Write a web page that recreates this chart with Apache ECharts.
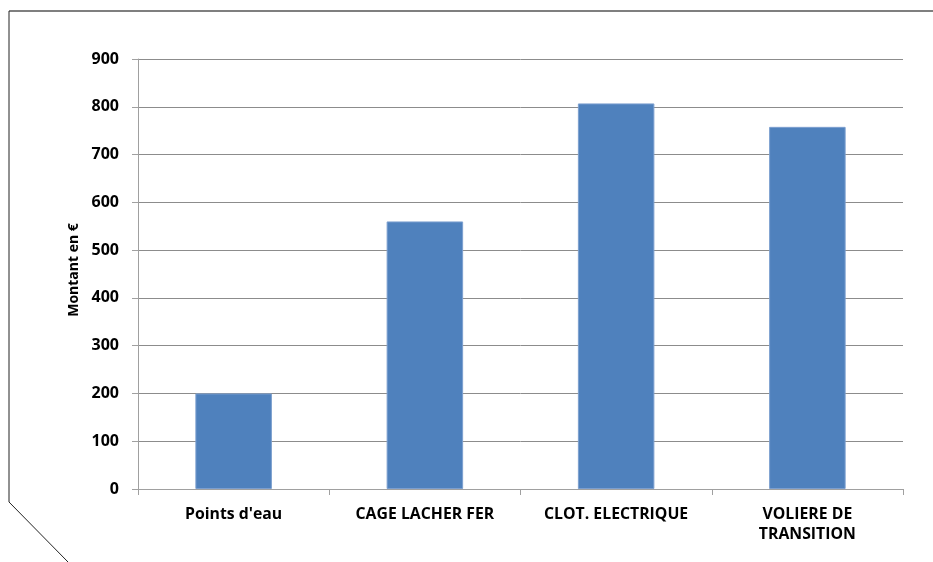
<!DOCTYPE html>
<html><head><meta charset="utf-8">
<script src="https://cdn.jsdelivr.net/npm/echarts@6/dist/echarts.min.js"></script>
<style>html,body{margin:0;padding:0;background:#fff}#c{width:933px;height:562px}</style>
</head><body><div id="c"></div>
<script>
const categories = ["Points d'eau", "CAGE LACHER FER", "CLOT. ELECTRIQUE", "VOLIERE DE\nTRANSITION"];
const values = [200, 560, 807, 758];
const yTicks = [0, 100, 200, 300, 400, 500, 600, 700, 800, 900];
const yTitle = "Montant en €";

const font = "'Open Sans', 'Noto Sans', sans-serif";
const chart = echarts.init(document.getElementById('c'), null, {renderer: 'canvas'});
chart.setOption({
  animation: false,
  grid: {left: 138, right: 30, top: 59, bottom: 73},
  graphic: [
    {type: 'line', shape: {x1: 9, y1: 11, x2: 933, y2: 11}, style: {stroke: '#7f7f7f', lineWidth: 2}},
    {type: 'polyline', shape: {points: [[9, 11], [9, 502], [68, 562]]}, style: {stroke: '#222', lineWidth: 1, fill: null}}
  ],
  xAxis: {
    type: 'category', data: categories,
    axisLine: {lineStyle: {color: '#a0a0a0'}},
    axisTick: {show: true, length: 6, alignWithLabel: false, lineStyle: {color: '#a0a0a0'}},
    axisLabel: {color: '#000', fontWeight: 'bold', fontSize: 15.8, fontFamily: font, margin: 15, lineHeight: 20, interval: 0}
  },
  yAxis: {
    type: 'value', min: yTicks[0], max: yTicks[yTicks.length - 1], interval: 100,
    name: yTitle, nameLocation: 'middle', nameGap: 49, nameRotate: 90,
    nameTextStyle: {color: '#000', fontWeight: 'bold', fontSize: 14, fontFamily: font, padding: [0, 0, 0, 8]},
    axisLine: {show: true, lineStyle: {color: '#a0a0a0'}},
    axisTick: {show: true, inside: false, length: 6, lineStyle: {color: '#a0a0a0'}},
    axisLabel: {color: '#000', fontWeight: 'bold', fontSize: 16, fontFamily: font, margin: 19},
    splitLine: {lineStyle: {color: '#8c8c8c', width: 1}}
  },
  series: [{
    type: 'bar', data: values, barWidth: '40%',
    itemStyle: {color: '#4f81bd', borderColor: '#7c9fcf', borderWidth: 1}
  }]
});
</script></body></html>
